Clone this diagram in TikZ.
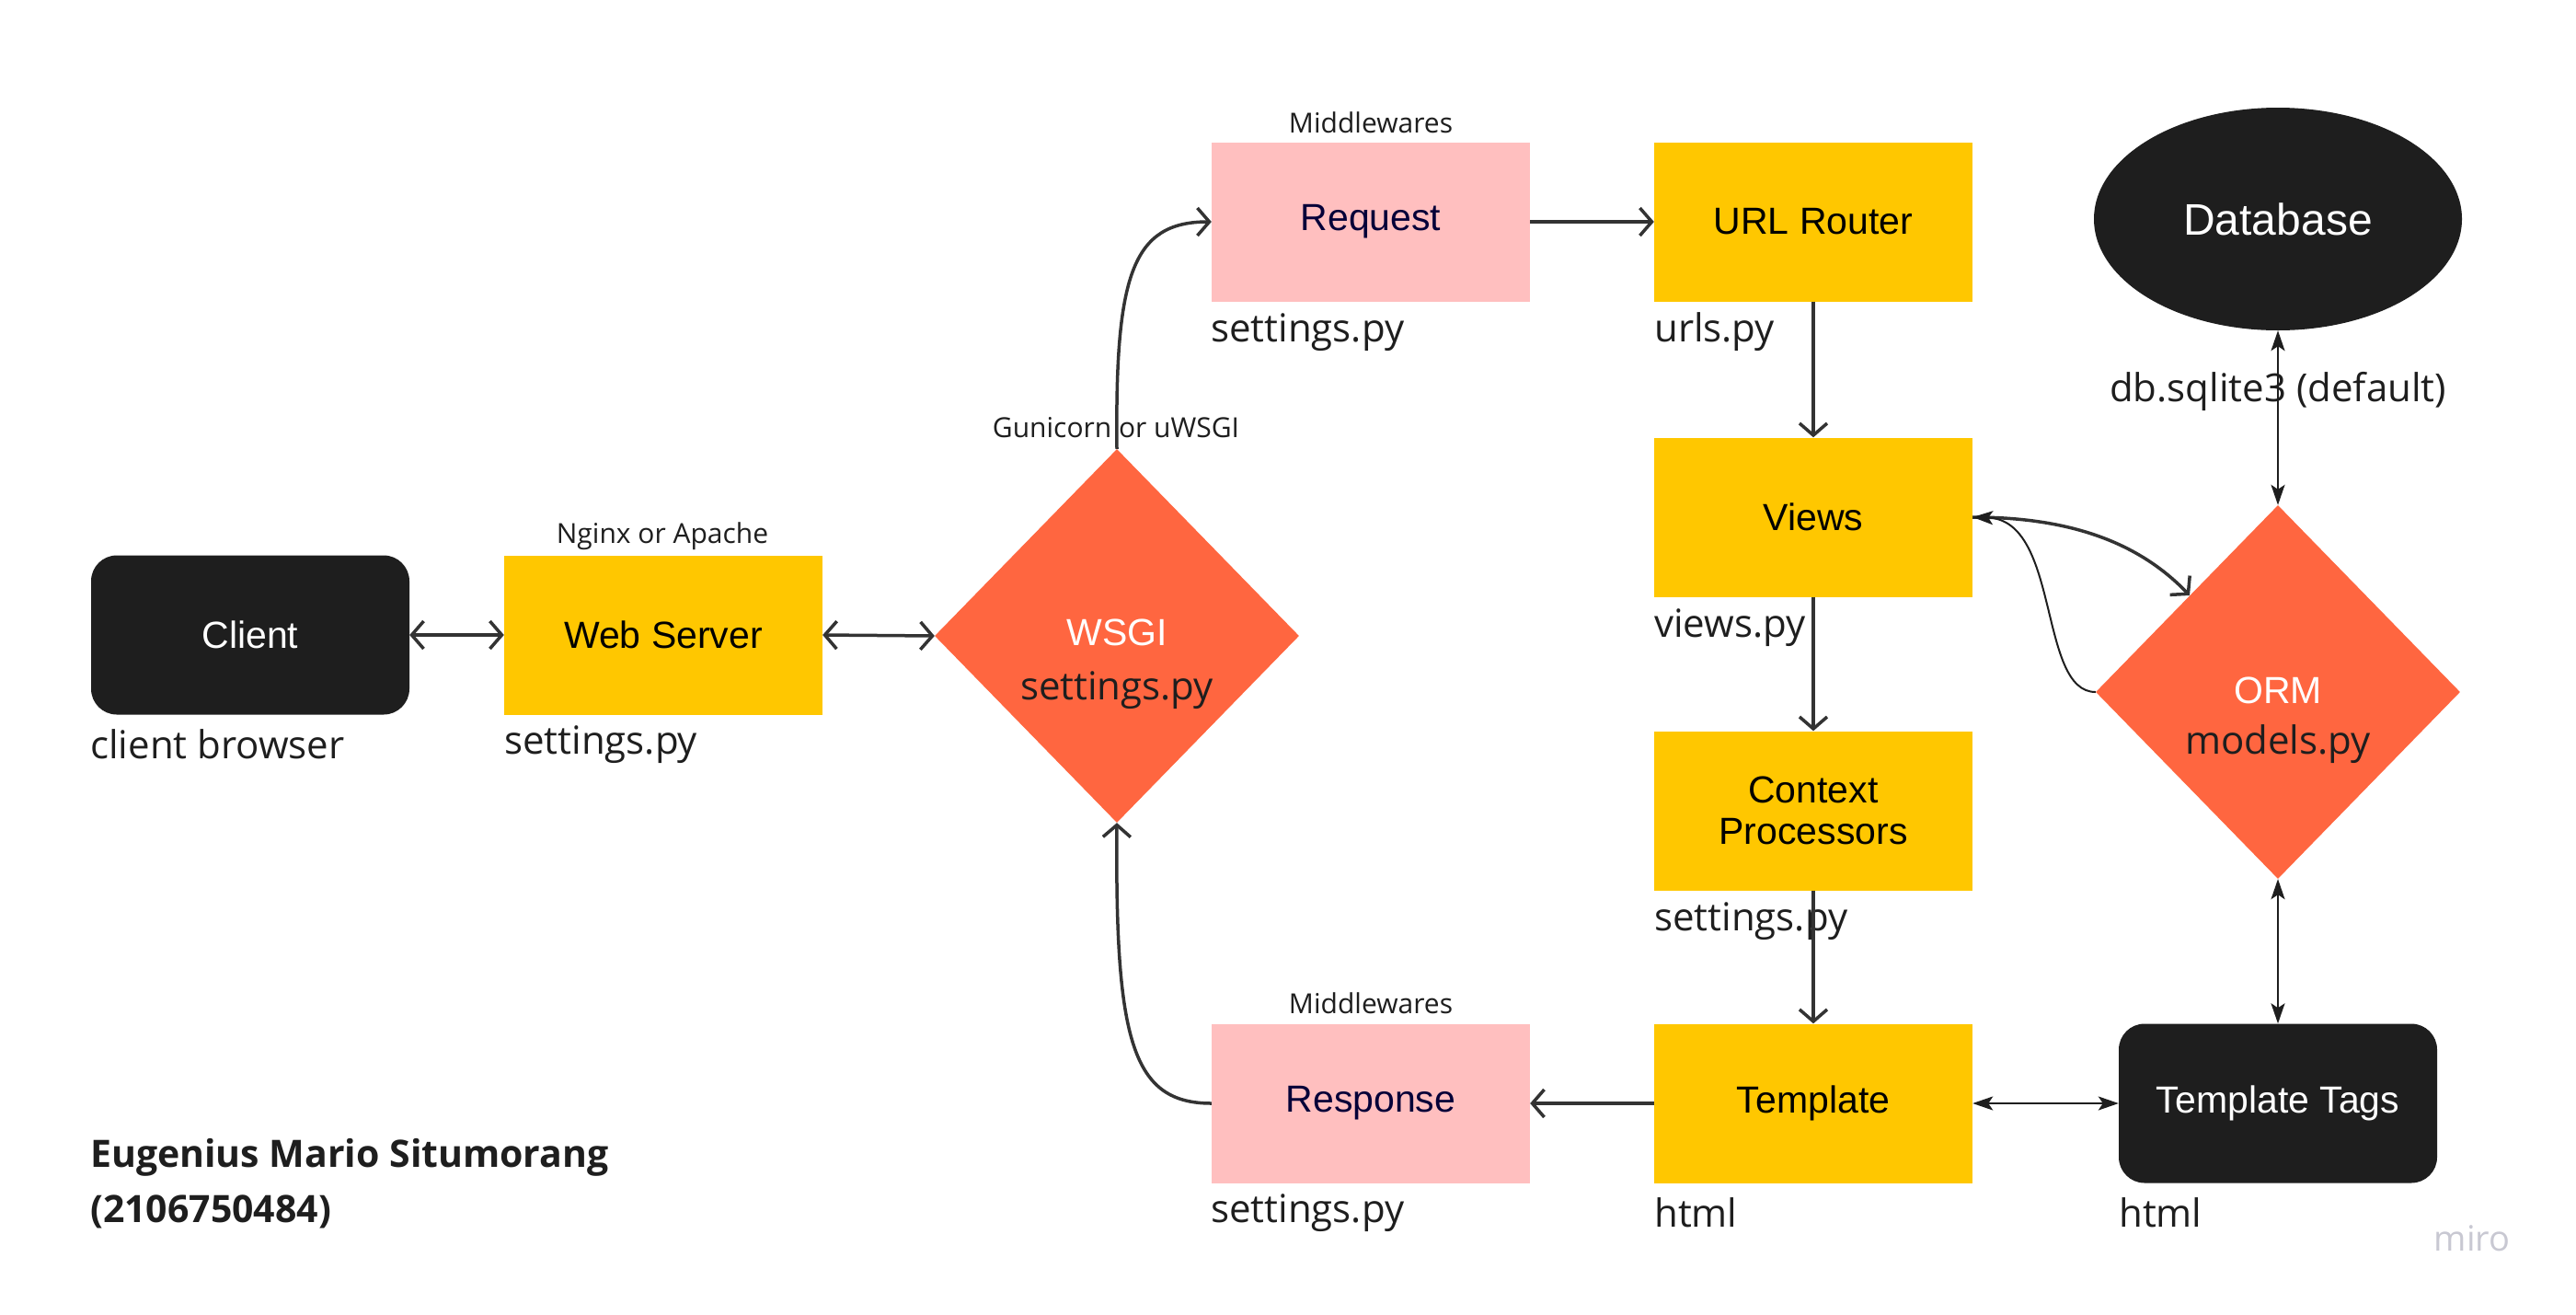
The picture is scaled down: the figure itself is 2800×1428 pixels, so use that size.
\documentclass[tikz,border=0pt]{standalone}
\usepackage{fontspec}
\setmainfont{Liberation Sans}
\newfontfamily\osans{Open Sans}
\usetikzlibrary{shapes.geometric,arrows.meta}
\definecolor{myyellow}{HTML}{FFC700}
\definecolor{mypink}{HTML}{FFBFBF}
\definecolor{myorange}{HTML}{FF6640}
\definecolor{myblack}{HTML}{1E1E1E}
\definecolor{navy}{HTML}{050038}
\definecolor{lineg}{HTML}{333333}
\definecolor{mirog}{HTML}{C8C8D2}
\begin{document}
\begin{tikzpicture}[x=1pt,y=-1pt,
  box/.style={rectangle, minimum width=346pt, minimum height=173pt, inner sep=0pt, font=\fontsize{41}{45}\selectfont, align=center},
  ybox/.style={box, fill=myyellow, text=black},
  pbox/.style={box, fill=mypink, text=navy},
  kbox/.style={box, fill=myblack, text=white, rounded corners=28pt},
  dia/.style={diamond, fill=myorange, minimum width=396pt, minimum height=406pt, inner sep=0pt},
  sub/.style={font=\osans\fontsize{42}{46}\selectfont, text=myblack, inner sep=0pt, anchor=west},
  small/.style={font=\osans\fontsize{30}{36}\selectfont, text=myblack, inner sep=0pt},
  author/.style={font=\osans\bfseries\fontsize{41}{50}\selectfont, text=myblack, inner sep=0pt, anchor=west},
  flow/.style={draw=lineg, line width=3.5pt, -{Straight Barb[length=13pt,width=30pt]}},
  bflow/.style={draw=lineg, line width=3.5pt, {Straight Barb[length=13pt,width=30pt]}-{Straight Barb[length=13pt,width=30pt]}},
  thin/.style={draw=myblack, line width=2pt, {Stealth[length=22pt,width=15pt,inset=5pt]}-{Stealth[length=22pt,width=15pt,inset=5pt]}}
]
\useasboundingbox[fill=white] (0,0) rectangle (2800,1428);

% nodes
\node[kbox] (client) at (272,690) {Client};
\node[ybox] (web) at (721,690) {Web Server};
\node[dia] (wsgi) at (1214,691) {};
\node[pbox] (req) at (1490,241) {Request};
\node[ybox] (url) at (1971,241) {URL Router};
\node[ybox] (views) at (1971,562) {Views};
\node[ybox] (ctx) at (1971,881) {Context\\Processors};
\node[ybox] (tpl) at (1971,1199) {Template};
\node[pbox] (resp) at (1490,1199) {Response};
\node[kbox] (tags) at (2476,1199) {Template Tags};
\node[ellipse, fill=myblack, minimum width=400pt, minimum height=242pt, inner sep=0pt, text=white, font=\fontsize{48}{50}\selectfont] (db) at (2476,238) {Database};
\node[dia] (orm) at (2476,752) {};

% texts inside diamonds
\node[text=white, inner sep=0pt, font=\fontsize{41}{45}\selectfont] (wsgit) at (1214,687) {WSGI};
\node[sub, anchor=center] (wsgis) at (1214,750) {settings.py};
\node[text=white, inner sep=0pt, font=\fontsize{41}{45}\selectfont] (ormt) at (2476,750) {ORM};
\node[sub, anchor=center] (orms) at (2476,809) {models.py};

% sub labels
\node[sub] (l1) at (98,809) {client browser};
\node[sub] (l2) at (548,809) {settings.py};
\node[sub] (l3) at (1316,361) {settings.py};
\node[sub] (l4) at (1798,361) {urls.py};
\node[sub] (l5) at (1798,682) {views.py};
\node[sub] (l6) at (1798,1001) {settings.py};
\node[sub] (l7) at (1798,1318) {html};
\node[sub] (l8) at (2303,1318) {html};
\node[sub] (l9) at (1316,1318) {settings.py};
\node[sub, anchor=center] (l10) at (2476,425) {db.sqlite3 (default)};

\node[small] (m1) at (1490,133) {Middlewares};
\node[small] (m2) at (1490,1090) {Middlewares};
\node[small] (ng) at (720,583) {Nginx or Apache};
\node[small] (gu) at (1213,465) {Gunicorn or uWSGI};

\node[author] (a1) at (98,1258) {Eugenius Mario Situmorang};
\node[author] (a2) at (98,1317) {(2106750484)};
\node[font=\osans\fontsize{38}{40}\selectfont, text=mirog, inner sep=0pt] (miro) at (2687,1346) {miro};

% connectors
\draw[bflow] (client.east) -- (web.west);
\draw[bflow] (web.east) -- (wsgi.west);
\draw[flow] (wsgi.north) .. controls (1212,300) and (1230,241) .. (req.west);
\draw[flow] (req.east) -- (url.west);
\draw[flow] (url.south) -- (views.north);
\draw[flow] (views.south) -- (ctx.north);
\draw[flow] (ctx.south) -- (tpl.north);
\draw[flow] (tpl.west) -- (resp.east);
\draw[flow] (resp.west) .. controls (1230,1199) and (1212,1130) .. (wsgi.south);
\draw[thin] (tpl.east) -- (tags.west);
\draw[thin] (db.south) -- (orm.north);
\draw[thin] (orm.south) -- (tags.north);
\coordinate (ormedge) at (2380,647);
\draw[flow] (views.east) .. controls (2260,562) and (2330,595) .. (ormedge);
\draw[draw=myblack, line width=2pt, -{Stealth[length=22pt,width=15pt,inset=5pt]}] (orm.west) .. controls (2215,752) and (2240,565) .. (views.east);
\end{tikzpicture}
\end{document}
